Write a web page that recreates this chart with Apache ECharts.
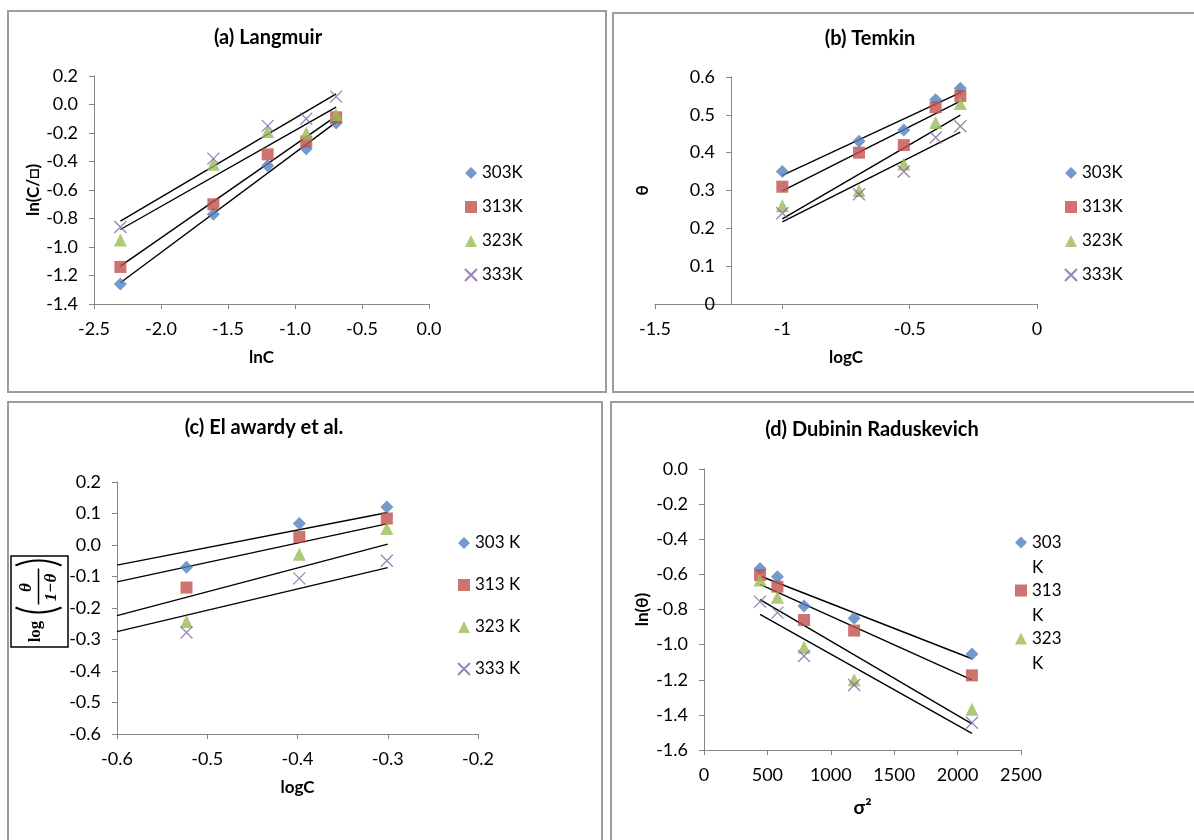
<!DOCTYPE html>
<html>
<head>
<meta charset="utf-8">
<title>Adsorption isotherms</title>
<script src="https://cdn.jsdelivr.net/npm/echarts@6/dist/echarts.min.js"></script>
<style>
  html, body { margin: 0; padding: 0; background: #fff; overflow: hidden; }
  #chart { position: absolute; left: 0; top: 0; width: 1194px; height: 840px; }
  .frame { position: absolute; border: 2px solid #9c9c9c; box-sizing: border-box; }
</style>
</head>
<body>
<!-- panel frames -->
<div class="frame" style="left:7px;top:10px;width:600px;height:383px"></div>
<div class="frame" style="left:612px;top:12px;width:600px;height:381px"></div>
<div class="frame" style="left:7px;top:401px;width:596px;height:460px"></div>
<div class="frame" style="left:610px;top:401px;width:600px;height:460px"></div>
<div id="chart"></div>
<script>
// (a) Langmuir : ln(C/θ) vs lnC
const lnC = [-2.303, -1.609, -1.204, -0.916, -0.693];
const lang303 = [-1.26, -0.77, -0.43, -0.31, -0.13];
const lang313 = [-1.14, -0.70, -0.35, -0.26, -0.09];
const lang323 = [-0.95, -0.42, -0.19, -0.20, -0.07];
const lang333 = [-0.86, -0.38, -0.15, -0.10, 0.055];

// (b) Temkin : θ vs logC
const logC = [-1, -0.699, -0.523, -0.398, -0.301];
const tem303 = [0.35, 0.43, 0.46, 0.54, 0.57];
const tem313 = [0.31, 0.40, 0.42, 0.52, 0.55];
const tem323 = [0.26, 0.30, 0.37, 0.48, 0.53];
const tem333 = [0.24, 0.29, 0.35, 0.44, 0.47];

// (c) El awardy : log(θ/(1-θ)) vs logC (only 3 points inside the axis range)
const logCc = [-0.523, -0.398, -0.301];
const awa303 = [-0.071, 0.068, 0.121];
const awa313 = [-0.135, 0.026, 0.084];
const awa323 = [-0.243, -0.029, 0.052];
const awa333 = [-0.278, -0.106, -0.050];
// trend lines as drawn in the figure (fitted on the full data set)
const awaFitX = [-0.6, -0.3];
const awaFit303 = [-0.064, 0.103];
const awaFit313 = [-0.117, 0.068];
const awaFit323 = [-0.224, 0.003];
const awaFit333 = [-0.275, -0.072];

// (d) Dubinin Raduskevich : ln(θ) vs σ²
const sigma2 = [442, 579, 789, 1184, 2113];
const dr303 = [-0.566, -0.613, -0.78, -0.85, -1.054];
const dr313 = [-0.604, -0.67, -0.86, -0.92, -1.175];
const dr323 = [-0.632, -0.73, -1.015, -1.20, -1.368];
const dr333 = [-0.755, -0.818, -1.065, -1.23, -1.445];

const FONT = "Lato, 'Noto Sans', 'DejaVu Sans', sans-serif";
const AXIS_GRAY = '#868686';

const SYM = {
  303: { symbol: 'diamond', color: '#4F81BD', size: 13 },
  313: { symbol: 'rect', color: '#C0504D', size: 12 },
  323: { symbol: 'triangle', color: '#9BBB59', size: 13 },
  333: { symbol: 'path://M0,0L10,10M10,0L0,10', color: '#8064A2', size: 12 },
};

function pts(xs, ys) {
  return xs.map((x, i) => [x, ys[i]]);
}

// least squares trend line between x0 and x1
function fit(xs, ys, x0, x1) {
  const n = xs.length;
  const mx = xs.reduce((a, b) => a + b, 0) / n;
  const my = ys.reduce((a, b) => a + b, 0) / n;
  let sxy = 0, sxx = 0;
  for (let i = 0; i < n; i++) {
    sxy += (xs[i] - mx) * (ys[i] - my);
    sxx += (xs[i] - mx) * (xs[i] - mx);
  }
  const k = sxy / sxx;
  return [[x0, my + k * (x0 - mx)], [x1, my + k * (x1 - mx)]];
}

function markers(name, t, xs, ys, idx) {
  const s = SYM[t];
  return {
    name: name,
    type: 'scatter',
    xAxisIndex: idx,
    yAxisIndex: idx,
    symbol: s.symbol,
    symbolSize: s.size,
    itemStyle: t === 333
      ? { color: 'rgba(0,0,0,0)', borderColor: s.color, borderWidth: 1.3 }
      : { color: s.color },
    data: pts(xs, ys),
    z: 3,
  };
}

function trend(idx, line) {
  return {
    type: 'line',
    xAxisIndex: idx,
    yAxisIndex: idx,
    data: line,
    symbol: 'none',
    silent: true,
    lineStyle: { color: '#000', width: 1.4 },
    z: 2,
  };
}

function axis(idx, min, max, interval, fmt, extra) {
  const a = {
    type: 'value',
    gridIndex: idx,
    min: min,
    max: max,
    interval: interval,
    axisLine: { onZero: false, lineStyle: { color: AXIS_GRAY, width: 1 } },
    axisTick: { show: true, length: 5, lineStyle: { color: AXIS_GRAY } },
    splitLine: { show: false },
    axisLabel: { color: '#000', fontSize: 18, fontFamily: FONT, margin: 16 },
    nameLocation: 'middle',
    nameTextStyle: { color: '#000', fontSize: 17, fontWeight: 'bold', fontFamily: FONT },
  };
  if (fmt) a.axisLabel.formatter = fmt;
  return Object.assign(a, extra || {});
}
const f1 = v => v.toFixed(1);
const plain = v => String(v);

function legend(names, left, top, gap) {
  return {
    data: names,
    orient: 'vertical',
    left: left,
    top: top,
    padding: 0,
    itemWidth: 12,
    itemHeight: 12,
    itemGap: gap,
    textStyle: { color: '#000', fontSize: 17, fontFamily: FONT, lineHeight: 20 },
  };
}

function title(text, x, y) {
  return {
    text: text,
    left: x,
    top: y,
    padding: 0,
    textAlign: 'center',
    textStyle: { color: '#000', fontSize: 20, fontWeight: 'bold', fontFamily: FONT },
  };
}

const series = [];
const L = { 303: lang303, 313: lang313, 323: lang323, 333: lang333 };
const T = { 303: tem303, 313: tem313, 323: tem323, 333: tem333 };
const A = { 303: awa303, 313: awa313, 323: awa323, 333: awa333 };
const AF = { 303: awaFit303, 313: awaFit313, 323: awaFit323, 333: awaFit333 };
const D = { 303: dr303, 313: dr313, 323: dr323, 333: dr333 };

[303, 313, 323, 333].forEach(t => {
  series.push(trend(0, fit(lnC, L[t], lnC[0], lnC[4])));
  series.push(markers(t + 'K', t, lnC, L[t], 0));
  series.push(trend(1, fit(logC, T[t], logC[0], logC[4])));
  series.push(markers(t + 'K', t, logC, T[t], 1));
  series.push(trend(2, pts(awaFitX, AF[t])));
  series.push(markers(t + ' K', t, logCc, A[t], 2));
  series.push(trend(3, fit(sigma2, D[t], sigma2[0], sigma2[4])));
  series.push(markers(t + ' K', t, sigma2, D[t], 3));
});

const chart = echarts.init(document.getElementById('chart'));
chart.setOption({
  animation: false,
  backgroundColor: 'transparent',
  title: [
    title('(a) Langmuir', 268, 28),
    title('(b) Temkin', 870, 29),
    title('(c) El awardy et al.', 264, 418),
    title('(d) Dubinin Raduskevich', 872, 420),
  ],
  legend: [
    legend(['303K', '313K', '323K', '333K'], 464, 163, 14),
    legend(['303K', '313K', '323K', '333K'], 1064, 163, 14),
    legend(['303 K', '313 K', '323 K', '333 K'], 457, 533, 22),
    Object.assign(legend(['303 K', '313 K', '323 K'], 1015, 505, -27), {
      // leading blank line keeps the marker level with the number, "K" wraps below
      formatter: n => '\n' + n.replace(' ', '\n'),
      textStyle: { color: '#000', fontSize: 17, fontFamily: FONT, lineHeight: 25 },
    }),
  ],
  grid: [
    { left: 94, top: 76, width: 335, height: 228 },
    { left: 655, top: 77, width: 382, height: 227 },
    { left: 117, top: 482, width: 361, height: 252 },
    { left: 704, top: 469, width: 317, height: 281 },
  ],
  xAxis: [
    axis(0, -2.5, 0, 0.5, f1, { name: 'lnC', nameGap: 45 }),
    axis(1, -1.5, 0, 0.5, null, { name: 'logC', nameGap: 45 }),
    axis(2, -0.6, -0.2, 0.1, f1, { name: 'logC', nameGap: 45 }),
    axis(3, 0, 2500, 500, plain, { name: 'σ²', nameGap: 48, nameTextStyle: { color: '#000', fontSize: 19, fontWeight: 'bold', fontFamily: FONT } }),
  ],
  yAxis: [
    axis(0, -1.4, 0.2, 0.2, f1, { name: 'ln(C/□)', nameGap: 49 }),
    axis(1, 0, 0.6, 0.1, null, { name: 'θ', nameGap: 80, offset: -76 }),
    axis(2, -0.6, 0.2, 0.1, f1),
    axis(3, -1.6, 0, 0.2, f1, { name: 'ln(θ)', nameGap: 53 }),
  ],
  graphic: [
    {
      type: 'rect',
      shape: { x: 11, y: 556, width: 57, height: 91 },
      style: { fill: '#fff', stroke: '#000', lineWidth: 1.5 },
    },
    {
      // rotated log(θ/(1-θ)) label of panel (c)
      type: 'group',
      x: 39.5,
      y: 601.5,
      rotation: Math.PI / 2,
      children: [
        { type: 'text', x: -30, y: -4, style: { text: 'log', fontSize: 17, fontWeight: 'bold', fontFamily: "'Liberation Serif', serif", fill: '#000', align: 'center', verticalAlign: 'middle' } },
        { type: 'bezierCurve', shape: { x1: -6, y1: -24, x2: -6, y2: 22, cpx1: -16, cpy1: -1 }, style: { stroke: '#000', lineWidth: 2, fill: null } },
        { type: 'bezierCurve', shape: { x1: 36, y1: -24, x2: 36, y2: 22, cpx1: 46, cpy1: -1 }, style: { stroke: '#000', lineWidth: 2, fill: null } },
        { type: 'text', x: 14, y: -13, style: { text: 'θ', fontSize: 17, fontStyle: 'italic', fontWeight: 'bold', fontFamily: "'Liberation Serif', serif", fill: '#000', align: 'center', verticalAlign: 'middle' } },
        { type: 'line', shape: { x1: -3, y1: -1, x2: 33, y2: -1 }, style: { stroke: '#000', lineWidth: 1.5 } },
        { type: 'text', x: 14, y: 12, style: { text: '1−θ', fontSize: 17, fontStyle: 'italic', fontWeight: 'bold', fontFamily: "'Liberation Serif', serif", fill: '#000', align: 'center', verticalAlign: 'middle' } },
      ],
    },
  ],
  series: series,
});
</script>
</body>
</html>
